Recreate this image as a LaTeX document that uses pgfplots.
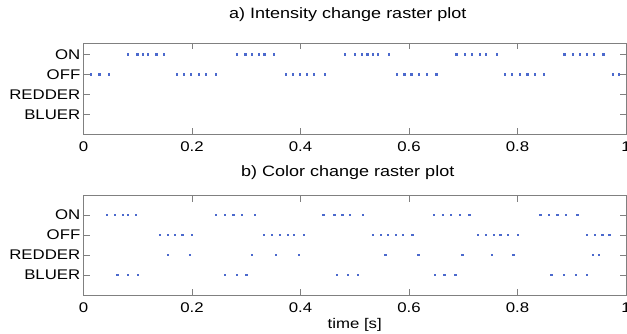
\documentclass[border=0pt]{standalone}
\usepackage{pgfplots}
\pgfplotsset{compat=1.18}
\usepackage{fontspec}
\setmainfont{Liberation Sans}[FakeStretch=1.2]
\newcommand\lblfont{\fontsize{14}{16}\selectfont}
\definecolor{dotc}{RGB}{75,105,205}
\definecolor{axc}{RGB}{128,128,128}
\pgfplotsset{
  dot/.style={dotc, only marks, mark=square*, mark size=0.6pt, mark options={draw=dotc, fill=dotc}},
  raster/.style={
    scale only axis, width=542.5pt, xmin=0, xmax=1,
    xtick={0,0.2,0.4,0.6,0.8,1}, xticklabels={0,0.2,0.4,0.6,0.8,1},
    ytick={1,2,3,4}, yticklabels={BLUER,REDDER,OFF,ON},
    axis line style={axc, line width=0.8pt},
    tick style={axc, line width=0.8pt},
    major tick length=6pt,
    tick align=inside,
    xticklabel style={font=\lblfont, text=black, anchor=north, inner sep=0pt, yshift=-7.4pt},
    yticklabel style={font=\lblfont, text=black, anchor=east, inner sep=0pt, xshift=-3pt},
    title style={font=\fontsize{15}{17}\selectfont, at={(0.5,1)}, anchor=base, xshift=-7pt},
  }
}
\begin{document}
\begin{tikzpicture}
\useasboundingbox (0,0) rectangle (627pt,334pt);
\begin{axis}[raster, at={(83.5pt,199.7pt)}, anchor=south west, height=91pt,
  ymin=0, ymax=4.55, title={a) Intensity change raster plot}, title style={yshift=18.5pt}]
\addplot[dot] coordinates {(0.0815,4)(0.099,4)(0.109,4)(0.119,4)(0.134,4)(0.148,4)
(0.283,4)(0.298,4)(0.310,4)(0.323,4)(0.333,4)(0.350,4)
(0.482,4)(0.500,4)(0.513,4)(0.523,4)(0.533,4)(0.543,4)(0.562,4)
(0.687,4)(0.702,4)(0.716,4)(0.730,4)(0.741,4)(0.762,4)
(0.886,4)(0.902,4)(0.915,4)(0.928,4)(0.940,4)(0.958,4)};
\addplot[dot] coordinates {(0.014,3)(0.029,3)(0.046,3)
(0.172,3)(0.185,3)(0.198,3)(0.212,3)(0.225,3)(0.244,3)
(0.373,3)(0.386,3)(0.399,3)(0.412,3)(0.425,3)(0.445,3)
(0.577,3)(0.591,3)(0.604,3)(0.618,3)(0.633,3)(0.650,3)
(0.776,3)(0.790,3)(0.804,3)(0.818,3)(0.832,3)(0.849,3)
(0.975,3)(0.987,3)};
\end{axis}
\begin{axis}[raster, at={(83.5pt,39pt)}, anchor=south west, height=99.3pt,
  ymin=0, ymax=4.965, title={b) Color change raster plot}, title style={yshift=13.4pt},
  xlabel={time [s]}, xlabel style={font=\lblfont, at={(axis description cs:0.5,0)}, anchor=base, inner sep=0pt, yshift=-34pt}]
\addplot[dot] coordinates {(0.043,4)(0.058,4)(0.072,4)(0.081,4)(0.096,4)
(0.244,4)(0.261,4)(0.276,4)(0.291,4)(0.316,4)
(0.442,4)(0.462,4)(0.477,4)(0.491,4)(0.515,4)
(0.645,4)(0.662,4)(0.677,4)(0.693,4)(0.711,4)
(0.842,4)(0.857,4)(0.873,4)(0.889,4)(0.910,4)};
\addplot[dot] coordinates {(0.140,3)(0.155,3)(0.168,3)(0.182,3)(0.200,3)
(0.332,3)(0.347,3)(0.361,3)(0.376,3)(0.388,3)(0.406,3)
(0.533,3)(0.548,3)(0.561,3)(0.576,3)(0.589,3)(0.606,3)
(0.727,3)(0.741,3)(0.756,3)(0.768,3)(0.782,3)(0.800,3)
(0.928,3)(0.942,3)(0.956,3)(0.969,3)};
\addplot[dot] coordinates {(0.155,2)(0.196,2)(0.310,2)(0.355,2)(0.397,2)(0.556,2)
(0.617,2)(0.698,2)(0.752,2)(0.792,2)(0.938,2)(0.950,2)};
\addplot[dot] coordinates {(0.062,1)(0.081,1)(0.100,1)(0.261,1)(0.282,1)(0.300,1)
(0.466,1)(0.487,1)(0.505,1)(0.647,1)(0.665,1)(0.685,1)
(0.862,1)(0.885,1)(0.907,1)(0.928,1)};
\end{axis}
\end{tikzpicture}
\end{document}
